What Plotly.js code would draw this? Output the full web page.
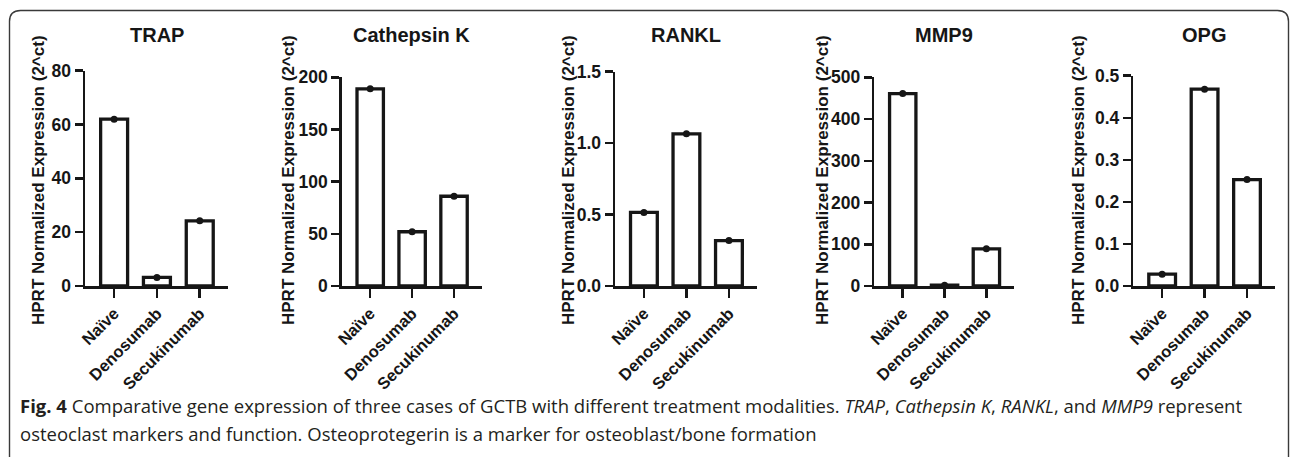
<!DOCTYPE html>
<html>
<head>
<meta charset="utf-8">
<script src="https://cdn.plot.ly/plotly-3.0.1.min.js"></script>
<style>
html,body{margin:0;padding:0;background:#fff;}
#chart{width:1290px;height:457px;}
</style>
</head>
<body>
<div id="chart"></div>
<script>
// ---- data ----
const categories = ['Naïve', 'Denosumab', 'Secukinumab'];
const trap = [62, 3.2, 24.2];
const cathepsinK = [189, 52, 86];
const rankl = [0.515, 1.065, 0.318];
const mmp9 = [461, 2, 89];
const opg = [0.028, 0.468, 0.253];
const panelTitles = ['TRAP', 'Cathepsin K', 'RANKL', 'MMP9', 'OPG'];
const yTitle = 'HPRT Normalized Expression (2^ct)';
const yMax = [80, 200, 1.5, 500, 0.5];
const yStep = [20, 50, 0.5, 100, 0.1];
const yFormat = ['d', 'd', '.1f', 'd', '.1f'];
const captionLine1 = '<b>Fig. 4</b> Comparative gene expression of three cases of GCTB with different treatment modalities. <i>TRAP</i>, <i>Cathepsin K</i>, <i>RANKL</i>, and <i>MMP9</i> represent';
const captionLine2 = 'osteoclast markers and function. Osteoprotegerin is a marker for osteoblast/bone formation';

const series = [trap, cathepsinK, rankl, mmp9, opg];

// ---- layout geometry (pixels) ----
const W = 1290, H = 457;
const panels = [
  {x0: 85,    x1: 228,  top: 70.7, yt: 38},
  {x0: 341.7, x1: 481.7, top: 77.3, yt: 288},
  {x0: 615,   x1: 757,  top: 71.7, yt: 568},
  {x0: 874.3, x1: 1014, top: 77.3, yt: 822},
  {x0: 1133.3, x1: 1275, top: 75.7, yt: 1078}
];
const bottom = 286;
const px = v => v / W;
const py = v => 1 - v / H;

const ink = '#161616';
const FONT = 'Liberation Sans, Arial, Helvetica, sans-serif';
const CAPFONT = 'Open Sans, Noto Sans, sans-serif';

const data = [];
const layout = {
  width: W, height: H,
  margin: {l: 0, r: 0, t: 0, b: 0},
  paper_bgcolor: '#fff', plot_bgcolor: 'rgba(0,0,0,0)',
  showlegend: false,
  bargap: 0.37,
  font: {family: FONT, color: ink},
  annotations: [],
  shapes: []
};

series.forEach((vals, i) => {
  const n = i + 1;
  const xa = 'x' + (n === 1 ? '' : n), ya = 'y' + (n === 1 ? '' : n);
  data.push({
    type: 'bar', x: categories, y: vals, xaxis: xa, yaxis: ya,
    marker: {color: '#ffffff', line: {color: ink, width: 3.3}},
    hoverinfo: 'x+y'
  });
  data.push({
    type: 'scatter', mode: 'markers', x: categories, y: vals, xaxis: xa, yaxis: ya,
    marker: {color: ink, size: 7}, cliponaxis: false, hoverinfo: 'skip'
  });
  const p = panels[i];
  const xk = 'xaxis' + (n === 1 ? '' : n), yk = 'yaxis' + (n === 1 ? '' : n);
  layout[xk] = {
    domain: [px(p.x0), px(p.x1)], anchor: ya,
    type: 'category', range: [-0.68, 2.66], fixedrange: true,
    showline: true, linecolor: ink, linewidth: 2.5,
    ticks: 'outside', ticklen: 9, tickwidth: 2.5, tickcolor: ink,
    tickangle: -45, showgrid: false, zeroline: false,
    tickfont: {family: FONT, size: 16.5, weight: 'bold', color: ink}
  };
  layout[yk] = {
    domain: [py(bottom), py(p.top)], anchor: xa,
    range: [0, yMax[i]], tick0: 0, dtick: yStep[i], tickformat: yFormat[i],
    fixedrange: true,
    showline: true, linecolor: ink, linewidth: 2.5,
    ticks: 'outside', ticklen: 8, tickwidth: 2.5, tickcolor: ink,
    showgrid: false, zeroline: false,
    tickfont: {family: FONT, size: 17.5, weight: 'bold', color: ink}
  };
  layout.annotations.push({
    xref: 'paper', yref: 'paper', x: px((p.x0 + p.x1) / 2), y: py(35),
    xanchor: 'center', yanchor: 'middle', showarrow: false,
    text: panelTitles[i],
    font: {family: FONT, size: 20, weight: 'bold', color: ink}
  });
  layout.annotations.push({
    xref: 'paper', yref: 'paper', x: px(p.yt), y: py(180),
    xanchor: 'center', yanchor: 'middle', showarrow: false, textangle: -90,
    text: yTitle,
    font: {family: FONT, size: 17, weight: 'bold', color: ink}
  });
});

layout.annotations.push({
  xref: 'paper', yref: 'paper', x: px(18), y: py(405),
  xanchor: 'left', yanchor: 'middle', showarrow: false, align: 'left',
  text: captionLine1,
  font: {family: CAPFONT, size: 18.5, color: '#231f20'}
});
layout.annotations.push({
  xref: 'paper', yref: 'paper', x: px(18), y: py(433),
  xanchor: 'left', yanchor: 'middle', showarrow: false, align: 'left',
  text: captionLine2,
  font: {family: CAPFONT, size: 18.5, color: '#231f20'}
});

// rounded frame
const L = 9.5, T = 10.5, R = 1288.5, B = 475, r = 11;
layout.shapes.push({
  type: 'path', xref: 'paper', yref: 'paper',
  path: `M ${px(L)} ${py(B)} L ${px(L)} ${py(T + r)} Q ${px(L)} ${py(T)} ${px(L + r)} ${py(T)} ` +
        `L ${px(R - r)} ${py(T)} Q ${px(R)} ${py(T)} ${px(R)} ${py(T + r)} L ${px(R)} ${py(B)}`,
  line: {color: '#3a3a3a', width: 1.4}
});

Plotly.newPlot('chart', data, layout, {displayModeBar: false, staticPlot: true});
</script>
</body>
</html>
